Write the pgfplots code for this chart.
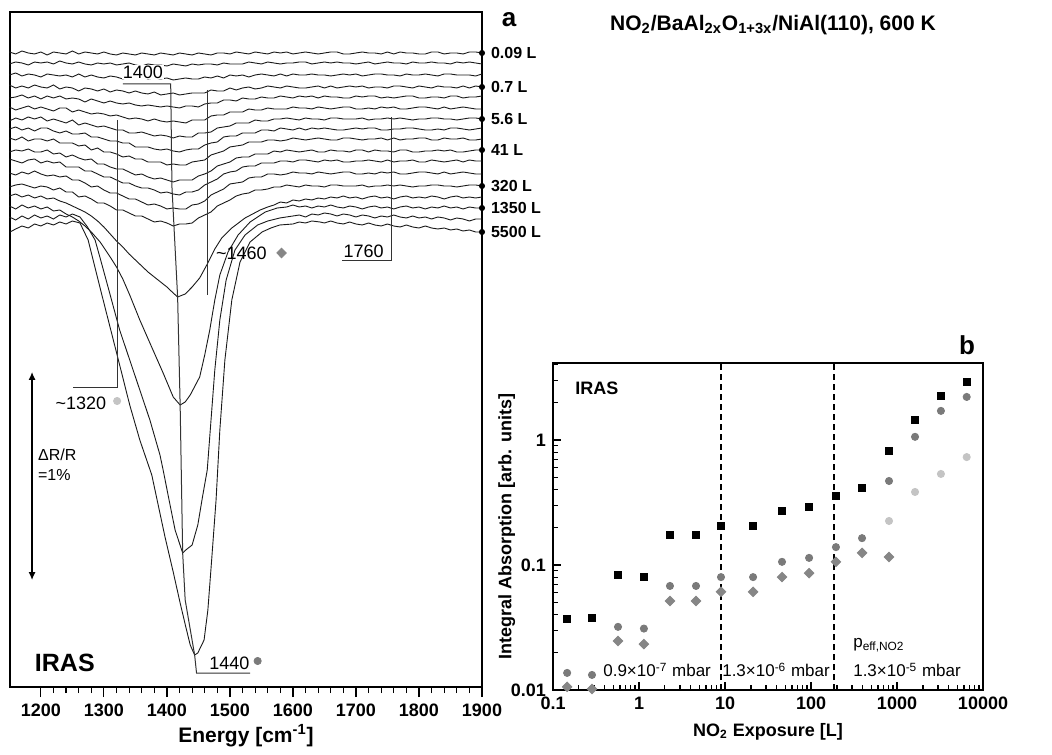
\documentclass[border=0pt]{standalone}
\usepackage{pgfplots}
\pgfplotsset{compat=1.18}
\usepackage{pgfplotstable}
\usepackage{fontspec}
\setmainfont{Liberation Sans}
\usetikzlibrary{arrows.meta}

\definecolor{cdark}{HTML}{7A7A7A}
\definecolor{cmid}{HTML}{868686}
\definecolor{clight}{HTML}{C4C4C4}

% shallow spectra: deviation from each trace's baseline (stack offsets added when plotting)
\pgfplotstableread{
e t1 t2 t3 t4 t5 t6 t7 t8 t9 t10 t11 t12 t13
1150 1 -1 0 2 -1 1 -2 0 1 -1 2 0 -1
1160 -1 1 2 -1 0 -2 1 2 -1 1 0 -2 1
1170 2 0 -1 1 2 0 -1 -1 2 0 -2 1 2
1180 0 -2 1 -1 -1 2 2 1 -2 2 1 -1 0
1190 -1 1 0 2 1 -1 0 -2 0 -1 2 2 -2
1200 1 0 -2 0 -2 1 2 1 0 -1 -2 -1 0
1210 -2 1 1 -1 1 -1 -2 1 -2 1 0 -3 -1
1220 1 -1 0 2 -1 -3 0 -2 0 -3 -2 -2 -4
1230 0 2 -1 -2 1 0 -2 -4 -4 -2 -1 -4 -2
1240 -1 0 0 0 -2 0 -4 -2 -4 -6 -6 -3 -6
1250 2 -1 -2 -1 -1 -4 -1 -5 -4 -4 -6 -7 -6
1260 -1 1 1 -4 -2 -2 -6 -5 -7 -7 -6 -7 -11
1270 1 -1 -2 -1 -5 -4 -4 -4 -6 -9 -10 -10 -10
1280 0 -2 0 -2 -2 -6 -6 -8 -11 -8 -10 -14 -13
1290 -1 0 -2 -4 -4 -5 -8 -8 -9 -13 -13 -13 -17
1300 1 -1 -3 -2 -6 -6 -7 -10 -13 -13 -16 -17 -17
1310 -1 0 -1 -5 -4 -8 -9 -12 -13 -16 -16 -20 -20
1320 -2 -2 -2 -3 -6 -7 -11 -12 -15 -18 -19 -20 -24
1330 0 -1 -4 -4 -7 -9 -11 -14 -18 -18 -22 -23 -24
1340 -1 0 -2 -6 -6 -11 -14 -14 -17 -21 -22 -26 -27
1350 -2 -2 -3 -4 -8 -10 -14 -18 -20 -24 -25 -26 -30
1360 0 -3 -2 -6 -9 -11 -13 -18 -20 -23 -27 -29 -30
1370 -1 -1 -4 -7 -8 -13 -15 -18 -23 -26 -27 -32 -33
1380 -2 -2 -3 -5 -9 -11 -17 -20 -23 -28 -29 -31 -36
1390 0 -2 -4 -8 -10 -13 -16 -21 -23 -27 -32 -33 -35
1400 -1 -3 -3 -7 -9 -14 -17 -20 -26 -29 -31 -36 -37
1410 -2 -1 -5 -6 -10 -13 -19 -22 -25 -31 -33 -35 -40
1420 0 -2 -4 -8 -11 -14 -17 -23 -26 -29 -34 -36 -38
1430 -1 -3 -3 -7 -9 -15 -18 -21 -26 -29 -31 -36 -38
1440 -2 -1 -4 -6 -9 -12 -18 -20 -23 -29 -31 -32 -37
1450 0 -2 -4 -6 -10 -12 -14 -20 -22 -25 -29 -31 -32
1460 -1 -1 -2 -6 -7 -12 -14 -16 -21 -23 -24 -28 -29
1470 -2 -1 -3 -3 -6 -8 -13 -14 -16 -20 -21 -22 -26
1480 0 -2 -1 -4 -6 -7 -9 -13 -14 -15 -18 -19 -20
1490 0 0 -3 -4 -3 -7 -8 -8 -12 -13 -13 -16 -17
1500 -1 -1 0 -1 -3 -4 -7 -7 -8 -11 -11 -11 -14
1510 1 -1 -1 -3 -4 -4 -4 -7 -7 -7 -10 -10 -10
1520 0 -1 0 -1 -1 -4 -4 -4 -6 -6 -6 -9 -8
1530 -1 1 -2 0 -2 -1 -4 -4 -3 -6 -5 -5 -7
1540 1 0 0 -2 -2 -2 -1 -4 -3 -3 -5 -4 -4
1550 0 -1 1 -1 0 -2 -2 -1 -3 -3 -2 -4 -4
1560 -1 1 0 1 -1 0 -2 -1 -1 -3 -2 -1 -3
1570 1 0 -1 0 -1 -1 0 -2 -1 0 -2 -1 -1
1580 0 -1 1 -1 1 -1 0 1 -2 -1 0 -2 -1
1590 1 0 -1 1 0 -1 1 0 -1 1 0 -1 1
1600 -1 0 1 0 -1 1 0 -1 1 0 -1 1 0
1610 0 1 0 -1 1 0 -1 1 0 -1 1 0 -1
1620 1 1 0 -1 0 0 1 -1 -1 0 1 0 1
1630 0 -1 1 0 1 -1 0 1 0 1 0 -1 0
1640 -1 0 0 1 -1 1 0 0 1 -1 -1 1 0
1650 0 1 0 -1 1 0 -1 1 0 -1 1 0 -1
1660 1 0 -1 1 0 -1 1 0 -1 1 0 -1 1
1670 1 1 0 -1 0 0 1 -1 -1 0 1 0 1
1680 -1 0 1 0 -1 1 0 -1 1 0 -1 1 0
1690 -1 0 0 1 -1 1 0 0 1 -1 -1 1 0
1700 0 -1 1 0 1 -1 0 1 0 1 0 -1 0
1710 1 0 -1 1 0 -1 1 0 -1 1 0 -1 1
1720 0 1 0 -1 1 0 -1 1 0 -1 1 0 -1
1730 0 -1 1 0 1 -1 0 1 0 1 0 -1 0
1740 -1 0 1 0 -1 1 0 -1 1 0 -1 1 0
1750 1 1 0 -1 0 0 1 -1 -1 0 1 0 1
1760 -1 0 0 1 -1 1 0 0 1 -1 -1 1 0
1770 1 0 -1 1 0 -1 1 0 -1 1 0 -1 1
1780 0 -1 1 0 1 -1 0 1 0 1 0 -1 0
1790 0 1 0 -1 1 0 -1 1 0 -1 1 0 -1
1800 -1 0 0 1 -1 1 0 0 1 -1 -1 1 0
1810 -1 0 1 0 -1 1 0 -1 1 0 -1 1 0
1820 1 1 0 -1 0 0 1 -1 -1 0 1 0 1
1830 1 0 -1 1 0 -1 1 0 -1 1 0 -1 1
1840 -1 0 1 0 -1 1 0 -1 1 0 -1 1 0
1850 0 -1 1 0 1 -1 0 1 0 1 0 -1 0
1860 0 1 0 -1 1 0 -1 1 0 -1 1 0 -1
1870 -1 0 0 1 -1 1 0 0 1 -1 -1 1 0
1880 1 1 0 -1 0 0 1 -1 -1 0 1 0 1
1890 1 0 -1 1 0 -1 1 0 -1 1 0 -1 1
1900 0 -1 1 0 1 -1 0 1 0 1 0 -1 0
}\shallow

\tikzset{trace/.style={black!90, line width=0.45pt},
  note/.style={black!80, line width=0.5pt},
  dmd/.style={mark=diamond*, mark options={xscale=1.33}}}

\begin{document}
\begin{tikzpicture}
\path[use as bounding box] (0,0) rectangle (526pt,377pt);

% ---------- panel a ----------
\begin{axis}[
  at={(5pt,33.5pt)}, anchor=south west,
  scale only axis, width=236pt, height=337.5pt,
  xmin=1151, xmax=1900, ymin=0, ymax=675,
  ytick=\empty,
  xtick={1200,1300,1400,1500,1600,1700,1800,1900},
  xticklabels={1200,1300,1400,1500,1600,1700,1800,1900},
  minor x tick num=4,
  xtick pos=bottom, tick align=outside,
  major tick length=5pt, minor tick length=3pt,
  axis line style={line width=0.8pt},
  every tick/.style={black, line width=0.6pt},
  tick label style={font=\fontsize{9}{10}\selectfont\bfseries},
  xlabel={Energy [cm\textsuperscript{-1}]},
  xlabel style={font=\fontsize{10.5}{12}\selectfont\bfseries, yshift=3pt},
  clip=false,
]
\addplot[trace] table[x=e, y expr=\thisrow{t1}+634] {\shallow};
\addplot[trace] table[x=e, y expr=\thisrow{t2}+624] {\shallow};
\addplot[trace] table[x=e, y expr=\thisrow{t3}+612] {\shallow};
\addplot[trace] table[x=e, y expr=\thisrow{t4}+600] {\shallow};
\addplot[trace] table[x=e, y expr=\thisrow{t5}+590] {\shallow};
\addplot[trace] table[x=e, y expr=\thisrow{t6}+579] {\shallow};
\addplot[trace] table[x=e, y expr=\thisrow{t7}+568] {\shallow};
\addplot[trace] table[x=e, y expr=\thisrow{t8}+558] {\shallow};
\addplot[trace] table[x=e, y expr=\thisrow{t9}+548] {\shallow};
\addplot[trace] table[x=e, y expr=\thisrow{t10}+536] {\shallow};
\addplot[trace] table[x=e, y expr=\thisrow{t11}+526] {\shallow};
\addplot[trace] table[x=e, y expr=\thisrow{t12}+514] {\shallow};
\addplot[trace] table[x=e, y expr=\thisrow{t13}+501] {\shallow};

% 640 L
\addplot[trace] coordinates {
(1150,491)(1160,493)(1170,490)(1180,492)(1190,489)(1200,491)(1210,488)(1220,489)(1230,486)(1240,484)
(1250,481)(1260,478)(1270,475)(1280,471)(1290,466)(1300,460)(1310,453)(1320,446)(1330,440)(1340,433)
(1350,427)(1360,421)(1370,415)(1380,410)(1390,405)(1400,400)(1410,394)(1417,390)(1429,393)(1440,400)
(1452,409)(1465,424)(1476,438)(1487,449)(1503,459)(1524,469)(1548,477)(1560,480)(1570,482)(1580,485)
(1590,484)(1600,487)(1610,486)(1620,488)(1630,487)(1640,489)(1650,488)(1660,490)(1670,489)(1680,491)
(1690,489)(1700,490)(1710,488)(1720,490)(1730,491)(1740,489)(1750,490)(1760,488)(1770,490)(1780,491)
(1790,489)(1800,490)(1810,489)(1820,491)(1830,490)(1840,488)(1850,490)(1860,491)(1870,489)(1880,490)
(1890,489)(1900,490)};
% 1350 L
\addplot[trace] coordinates {
(1150,481)(1160,478)(1170,482)(1180,479)(1190,481)(1200,478)(1210,480)(1220,476)(1230,477)(1240,473)
(1250,470)(1260,466)(1270,461)(1280,455)(1294,445)(1310,430)(1320,420)(1330,408)(1341,392)(1357,367)
(1373,344)(1394,314)(1410,290)(1421,282)(1429,285)(1437,292)(1452,310)(1460,332)(1468,357)(1476,387)
(1484,412)(1497,435)(1513,452)(1532,465)(1556,475)(1575,479)(1590,480)(1600,482)(1610,480)(1620,481)
(1630,479)(1640,481)(1650,480)(1660,482)(1670,480)(1680,479)(1690,481)(1700,480)(1710,478)(1720,480)
(1730,481)(1740,479)(1750,480)(1760,478)(1770,480)(1780,481)(1790,479)(1800,480)(1810,478)(1820,480)
(1830,479)(1840,481)(1850,479)(1860,480)(1870,478)(1880,480)(1890,479)(1900,479)};
% 2700 L
\addplot[trace] coordinates {
(1150,470)(1160,467)(1170,471)(1180,468)(1190,472)(1200,469)(1210,471)(1220,468)(1230,472)(1240,470)
(1250,473)(1262,470)(1274,460)(1286,447)(1294,429)(1310,392)(1325,357)(1341,327)(1357,297)(1373,267)
(1389,232)(1394,217)(1405,182)(1413,157)(1425,134)(1430,137)(1440,142)(1449,162)(1457,192)(1464,217)
(1470,267)(1476,317)(1484,367)(1494,407)(1508,437)(1524,452)(1544,462)(1560,466)(1579,469)(1600,471)
(1610,472)(1620,470)(1630,473)(1640,472)(1650,474)(1660,473)(1670,471)(1680,473)(1690,472)(1700,470)
(1710,472)(1720,471)(1730,469)(1740,471)(1750,470)(1760,472)(1770,470)(1780,469)(1790,471)(1800,469)
(1810,470)(1820,468)(1830,470)(1840,469)(1850,467)(1860,469)(1870,468)(1880,466)(1890,468)(1900,468)};
% 5500 L
\addplot[trace] coordinates {
(1151,455)(1160,458)(1170,461)(1180,459)(1190,463)(1200,461)(1210,464)(1220,462)(1230,465)(1240,463)
(1250,466)(1262,464)(1275,447)(1294,399)(1321,332)(1341,282)(1357,247)(1376,212)(1397,150)(1410,115)
(1421,84)(1430,60)(1437,42)(1444,32)(1449,34)(1459,47)(1465,77)(1471,127)(1478,187)(1484,257)
(1492,327)(1503,387)(1516,425)(1532,445)(1551,455)(1565,459)(1579,462)(1600,463)(1610,465)(1620,464)
(1630,466)(1643,465)(1650,464)(1660,466)(1670,464)(1680,463)(1690,465)(1700,463)(1710,462)(1720,464)
(1730,462)(1740,461)(1750,463)(1760,461)(1770,460)(1780,462)(1790,460)(1800,459)(1810,461)(1820,459)
(1830,458)(1840,459)(1850,457)(1860,458)(1870,456)(1880,457)(1890,455)(1900,455)};

% end dots and exposure labels
\addplot[only marks, mark=*, mark size=1.3pt, black] coordinates {
(1900,634)(1900,600)(1900,568)(1900,537)(1900,501)(1900,479)(1900,455)};
\begin{scope}[every node/.style={anchor=west, xshift=1pt, font=\fontsize{8}{9}\selectfont\bfseries}]
\node at (1900,634) {0.09 L};
\node at (1900,600) {0.7 L};
\node at (1900,568) {5.6 L};
\node at (1900,537) {41 L};
\node at (1900,501) {320 L};
\node at (1900,479) {1350 L};
\node at (1900,455) {5500 L};
\end{scope}

% peak markers
\draw[note] (1330,603) -- (1406,603) -- (1408,500) -- (1417,390) -- (1421,282) -- (1425,134)
  -- (1429,87) -- (1444,32) -- (1447,14) -- (1532,14);
\node[fill=white, inner sep=0.5pt, font=\fontsize{9}{10}\selectfont] at (1362,615) {1400};
\draw[note] (1465,597) -- (1465,392);
\node[anchor=west, inner sep=0.5pt, font=\fontsize{9}{10}\selectfont] at (1476,434) {\textasciitilde 1460};
\draw[note] (1756,570) -- (1756,426) -- (1678,426);
\node[anchor=south west, inner sep=0.5pt, font=\fontsize{9}{10}\selectfont] at (1678,428) {1760};
\draw[note] (1321,567) -- (1321,299) -- (1251,299);
\node[anchor=west, inner sep=0.5pt, font=\fontsize{9}{10}\selectfont] at (1221,284) {\textasciitilde 1320};
\node[anchor=west, inner sep=0.5pt, font=\fontsize{9}{10}\selectfont] at (1465,24) {1440};
\addplot[only marks, dmd, mark size=2.4pt, cmid] coordinates {(1582,434)};
\addplot[only marks, mark=*, mark size=1.8pt, clight] coordinates {(1321,286)};
\addplot[only marks, mark=*, mark size=1.8pt, cdark] coordinates {(1544,26)};

\draw[{Latex[length=4pt,width=3.5pt]}-{Latex[length=4pt,width=3.5pt]}, line width=0.6pt] (1186,107) -- (1186,315);
\node[anchor=west, align=left, inner sep=0pt, font=\fontsize{8}{10}\selectfont] at (1195,222) {ΔR/R\\=1\%};
\node[anchor=west, inner sep=0pt, font=\fontsize{12.5}{14}\selectfont\bfseries] at (1190,24) {IRAS};
\end{axis}

\node[font=\fontsize{13}{14}\selectfont\bfseries] at (254.5pt,367pt) {a};
\node[font=\fontsize{10.5}{12}\selectfont\bfseries] at (386.5pt,364.5pt)
  {NO\textsubscript{2}/BaAl\textsubscript{2x}O\textsubscript{1+3x}/NiAl(110), 600 K};
\node[font=\fontsize{13}{14}\selectfont\bfseries] at (483.5pt,204.5pt) {b};

% ---------- panel b ----------
\begin{axis}[
  at={(276.5pt,32pt)}, anchor=south west,
  scale only axis, width=215pt, height=163.5pt,
  xmode=log, ymode=log,
  xmin=0.1, xmax=10000, ymin=0.01, ymax=4.13,
  xtick={0.1,1,10,100,1000,10000},
  xticklabels={0.1,1,10,100,1000,10000},
  ytick={0.01,0.1,1}, yticklabels={0.01,0.1,1},
  minor xtick={0.2,0.3,0.4,0.5,0.6,0.7,0.8,0.9,2,3,4,5,6,7,8,9,20,30,40,50,60,70,80,90,
    200,300,400,500,600,700,800,900,2000,3000,4000,5000,6000,7000,8000,9000},
  minor ytick={0.02,0.03,0.04,0.05,0.06,0.07,0.08,0.09,0.2,0.3,0.4,0.5,0.6,0.7,0.8,0.9,2,3,4},
  xtick pos=bottom, ytick pos=left, tick align=inside,
  major tick length=4pt, minor tick length=2.5pt,
  axis line style={line width=0.9pt},
  every tick/.style={black, line width=0.6pt},
  tick label style={font=\fontsize{9}{10}\selectfont\bfseries},
  xlabel={NO\textsubscript{2} Exposure [L]},
  ylabel={Integral Absorption [arb. units]},
  label style={font=\fontsize{9}{10}\selectfont\bfseries},
  ylabel shift=-9pt,
  clip=false,
]
\draw[densely dashed, line width=0.6pt] (8.98,0.01) -- (8.98,4.13);
\draw[densely dashed, line width=0.6pt] (185,0.01) -- (185,4.13);
\addplot[only marks, mark=square*, mark size=1.75pt, black] coordinates {
(0.146,0.037)(0.284,0.038)(0.57,0.083)(1.14,0.080)(2.29,0.174)(4.6,0.174)(8.98,0.205)(21.2,0.205)
(46,0.27)(95,0.29)(195,0.356)(392,0.41)(807,0.82)(1620,1.45)(3240,2.25)(6460,2.91)};
\addplot[only marks, mark=*, mark size=1.8pt, cdark] coordinates {
(0.146,0.0137)(0.284,0.0132)(0.57,0.032)(1.14,0.031)(2.29,0.068)(4.6,0.068)(8.98,0.080)(21.2,0.080)
(46,0.106)(95,0.114)(195,0.139)(392,0.164)(807,0.47)(1620,1.06)(3240,1.71)(6460,2.21)};
\addplot[only marks, dmd, mark size=2.4pt, cmid] coordinates {
(0.146,0.0106)(0.284,0.0102)(0.57,0.0247)(1.14,0.0233)(2.29,0.0515)(4.6,0.0515)(8.98,0.061)(21.2,0.061)
(46,0.080)(95,0.086)(195,0.106)(392,0.125)(807,0.116)};
\addplot[only marks, mark=*, mark size=1.8pt, clight] coordinates {
(807,0.225)(1620,0.384)(3240,0.535)(6460,0.73)};

\node[anchor=west, inner sep=0pt, font=\fontsize{9}{10}\selectfont\bfseries] at (0.18,2.6) {IRAS};
\begin{scope}[every node/.style={anchor=west, inner sep=0pt, font=\fontsize{8.5}{10}\selectfont}]
\node at (0.381,0.0145) {0.9×10\textsuperscript{-7} mbar};
\node at (9.2,0.0145) {1.3×10\textsuperscript{-6} mbar};
\node at (307,0.0145) {1.3×10\textsuperscript{-5} mbar};
\node at (307,0.0229) {p\textsubscript{eff,NO2}};
\end{scope}
\end{axis}
\end{tikzpicture}
\end{document}
